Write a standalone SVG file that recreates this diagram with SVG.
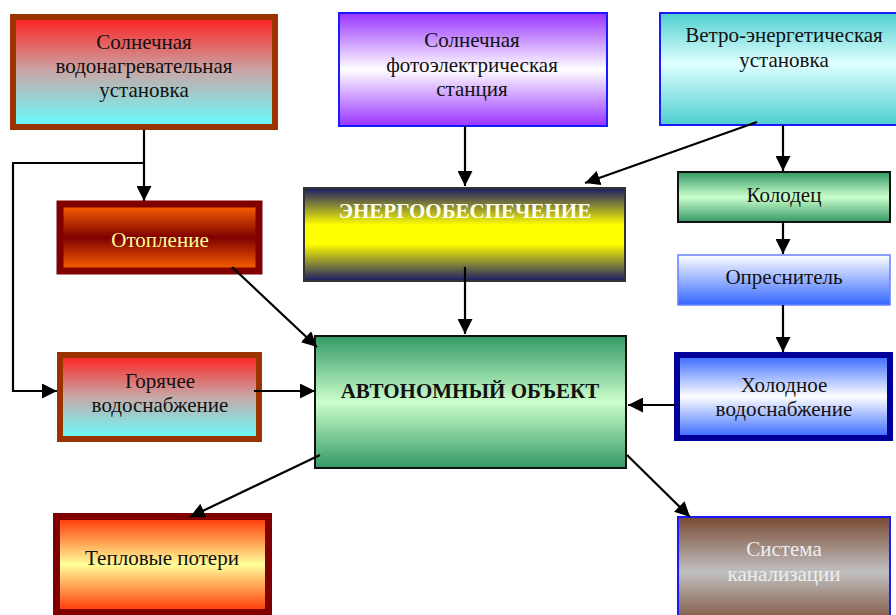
<svg xmlns="http://www.w3.org/2000/svg" width="896" height="615" viewBox="0 0 896 615">
  <defs>
    <linearGradient id="gRedCyan" x1="0" y1="0" x2="0" y2="1">
      <stop offset="0" stop-color="#ff1f1f"/>
      <stop offset="0.5" stop-color="#c8a8a8"/>
      <stop offset="1" stop-color="#66ffff"/>
    </linearGradient>
    <linearGradient id="gPurple" x1="0" y1="0" x2="0" y2="1">
      <stop offset="0" stop-color="#9933ff"/>
      <stop offset="0.5" stop-color="#ffffff"/>
      <stop offset="1" stop-color="#9933ff"/>
    </linearGradient>
    <linearGradient id="gTeal" x1="0" y1="0" x2="0" y2="1">
      <stop offset="0" stop-color="#4dcfcf"/>
      <stop offset="0.45" stop-color="#e0ffff"/>
      <stop offset="1" stop-color="#4dcfcf"/>
    </linearGradient>
    <linearGradient id="gGreen" x1="0" y1="0" x2="0" y2="1">
      <stop offset="0" stop-color="#339966"/>
      <stop offset="0.5" stop-color="#ccffcc"/>
      <stop offset="1" stop-color="#339966"/>
    </linearGradient>
    <linearGradient id="gWhiteBlue" x1="0" y1="0" x2="0" y2="1">
      <stop offset="0" stop-color="#ffffff"/>
      <stop offset="1" stop-color="#3366ff"/>
    </linearGradient>
    <linearGradient id="gBlueWhite" x1="0" y1="0" x2="0" y2="1">
      <stop offset="0" stop-color="#3366ff"/>
      <stop offset="0.5" stop-color="#ffffff"/>
      <stop offset="1" stop-color="#3366ff"/>
    </linearGradient>
    <linearGradient id="gNavyYellow" x1="0" y1="0" x2="0" y2="1">
      <stop offset="0" stop-color="#1a1a66"/>
      <stop offset="0.4" stop-color="#ffff00"/>
      <stop offset="0.6" stop-color="#ffff00"/>
      <stop offset="1" stop-color="#1a1a66"/>
    </linearGradient>
    <linearGradient id="gOrange" x1="0" y1="0" x2="0" y2="1">
      <stop offset="0" stop-color="#ff6600"/>
      <stop offset="0.5" stop-color="#800000"/>
      <stop offset="1" stop-color="#ff6600"/>
    </linearGradient>
    <linearGradient id="gHeat" x1="0" y1="0" x2="0" y2="1">
      <stop offset="0" stop-color="#ff3300"/>
      <stop offset="0.5" stop-color="#ffff99"/>
      <stop offset="1" stop-color="#ff3300"/>
    </linearGradient>
    <linearGradient id="gBrown" x1="0" y1="0" x2="0" y2="1">
      <stop offset="0" stop-color="#7a4a33"/>
      <stop offset="0.5" stop-color="#c0c0c0"/>
      <stop offset="1" stop-color="#7a4a33"/>
    </linearGradient>
    <marker id="arr" markerWidth="15" markerHeight="15" refX="15" refY="7.5" orient="auto" markerUnits="userSpaceOnUse">
      <path d="M0,0 L15,7.5 L0,15 Z" fill="#000"/>
    </marker>
  </defs>
  <style>
    text { font-family: "Liberation Serif", "Times New Roman", serif; font-size: 21px; text-anchor: middle; fill: #111; }
    .bold { font-weight: bold; }
    .conn { stroke: #000; stroke-width: 2.2; fill: none; }
    .arrow { marker-end: url(#arr); }
  </style>

  <g id="solar-water-heater">
    <rect x="13" y="17" width="262" height="110" fill="url(#gRedCyan)" stroke="#993300" stroke-width="6"/>
    <text x="144" y="49">Солнечная</text>
    <text x="144" y="73">водонагревательная</text>
    <text x="144" y="97">установка</text>
  </g>

  <g id="solar-pv-station">
    <rect x="339" y="13" width="268" height="113" fill="url(#gPurple)" stroke="#1a1aff" stroke-width="2"/>
    <text x="472" y="47">Солнечная</text>
    <text x="472" y="72">фотоэлектрическая</text>
    <text x="472" y="96">станция</text>
  </g>

  <g id="wind-power">
    <rect x="660" y="13" width="240" height="112" fill="url(#gTeal)" stroke="#1a1aff" stroke-width="2"/>
    <text x="784" y="42">Ветро-энергетическая</text>
    <text x="784" y="67">установка</text>
  </g>

  <g id="well">
    <rect x="678" y="172" width="212" height="50" fill="url(#gGreen)" stroke="#111" stroke-width="2"/>
    <text x="784" y="202">Колодец</text>
  </g>

  <g id="desalinator">
    <rect x="678" y="255" width="212" height="50" fill="url(#gWhiteBlue)" stroke="#6680ff" stroke-width="1.5"/>
    <text x="784" y="284">Опреснитель</text>
  </g>

  <g id="cold-water">
    <rect x="677" y="355" width="213" height="83" fill="url(#gBlueWhite)" stroke="#000099" stroke-width="6"/>
    <text x="784" y="392">Холодное</text>
    <text x="784" y="416">водоснабжение</text>
  </g>

  <g id="energy-supply">
    <rect x="304" y="188" width="321" height="93" fill="url(#gNavyYellow)" stroke="#333" stroke-width="2"/>
    <text x="465" y="218" class="bold" style="fill:#fffff0">ЭНЕРГООБЕСПЕЧЕНИЕ</text>
  </g>

  <g id="autonomous-object">
    <rect x="315" y="336" width="311" height="132" fill="url(#gGreen)" stroke="#111" stroke-width="2"/>
    <text x="470" y="398" class="bold">АВТОНОМНЫЙ ОБЪЕКТ</text>
  </g>

  <g id="heating">
    <rect x="60" y="204" width="199" height="67" fill="url(#gOrange)" stroke="#800000" stroke-width="7"/>
    <text x="160" y="247" style="fill:#ffff99">Отопление</text>
  </g>

  <g id="hot-water">
    <rect x="60" y="355" width="199" height="84" fill="url(#gRedCyan)" stroke="#993300" stroke-width="6"/>
    <text x="160" y="388">Горячее</text>
    <text x="160" y="412">водоснабжение</text>
  </g>

  <g id="heat-losses">
    <rect x="56.5" y="516.5" width="212" height="96" fill="url(#gHeat)" stroke="#800000" stroke-width="7"/>
    <text x="162" y="565">Тепловые потери</text>
  </g>

  <g id="sewerage">
    <rect x="678" y="517" width="212" height="110" fill="url(#gBrown)" stroke="#1a1aff" stroke-width="2"/>
    <text x="784" y="556" style="fill:#eeeeee">Система</text>
    <text x="784" y="581" style="fill:#eeeeee">канализации</text>
  </g>

  <g id="connectors">
    <path class="conn arrow" d="M144,130 L144,201"/>
    <path class="conn arrow" d="M144,163 L13,163 L13,391 L57,391"/>
    <path class="conn arrow" d="M465,126 L465,186"/>
    <path class="conn arrow" d="M757,122 L585,183"/>
    <path class="conn arrow" d="M783,125 L783,171"/>
    <path class="conn arrow" d="M783,222 L783,254"/>
    <path class="conn arrow" d="M783,305 L783,352"/>
    <path class="conn arrow" d="M465,267 L465,334"/>
    <path class="conn arrow" d="M232,267 L317,347"/>
    <path class="conn arrow" d="M254,391 L315,391"/>
    <path class="conn arrow" d="M675,405 L628,405"/>
    <path class="conn arrow" d="M320,455 L190,517"/>
    <path class="conn arrow" d="M627,455 L690,517"/>
  </g>
</svg>
